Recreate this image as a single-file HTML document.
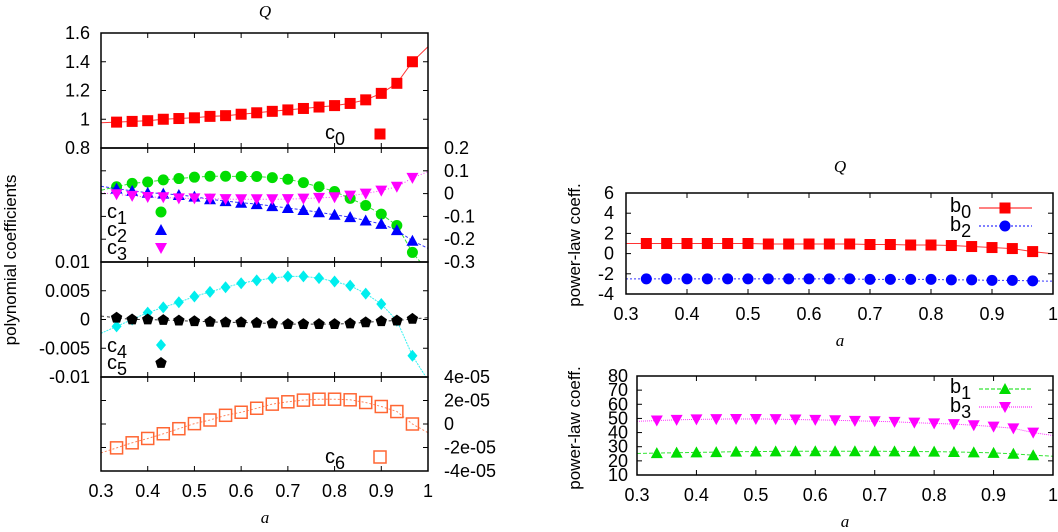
<!DOCTYPE html>
<html><head><meta charset="utf-8"><style>
body{margin:0;background:#fff}
svg text{font-family:"Liberation Sans",sans-serif;fill:#000}
.it{font-family:"Liberation Serif",serif;font-style:italic}
</style></head><body>
<svg id="s" width="1058" height="527" xmlns="http://www.w3.org/2000/svg"></svg>
<script>
const xs=[1/3,11/30,0.4,13/30,14/30,0.5,16/30,17/30,0.6,19/30,20/30,0.7,22/30,23/30,0.8,25/30,26/30,0.9,28/30,29/30];
const c0=[0.98,0.985,0.99,1.0,1.005,1.01,1.02,1.025,1.035,1.045,1.055,1.065,1.075,1.085,1.095,1.11,1.135,1.18,1.25,1.4];
const c1=[0.030,0.045,0.051,0.060,0.066,0.072,0.076,0.076,0.075,0.075,0.070,0.063,0.048,0.030,0.009,-0.021,-0.052,-0.090,-0.140,-0.258];
const c2=[0.022,0.012,0.004,0,-0.006,-0.013,-0.025,-0.033,-0.040,-0.046,-0.055,-0.063,-0.072,-0.082,-0.093,-0.103,-0.118,-0.133,-0.160,-0.207];
const c3=[-0.003,-0.010,-0.015,-0.016,-0.021,-0.021,-0.022,-0.024,-0.025,-0.025,-0.025,-0.024,-0.022,-0.019,-0.016,-0.009,0,0.013,0.030,0.069];
const c4=[-0.0012,0.0,0.0012,0.0021,0.0030,0.0040,0.0048,0.0056,0.0063,0.0068,0.0072,0.0075,0.0075,0.0072,0.0066,0.0059,0.0045,0.0027,-0.0002,-0.0063];
const c5=[0.0003,0,0,-0.0001,-0.0002,-0.0003,-0.0004,-0.0005,-0.0005,-0.0006,-0.0007,-0.0008,-0.0008,-0.0008,-0.0008,-0.0007,-0.0005,-0.0003,-0.0002,0.0001];
const c6=[-2.03,-1.6,-1.23,-0.83,-0.40,0.03,0.34,0.74,1.0,1.34,1.69,1.89,2.03,2.11,2.11,2.06,1.83,1.49,1.06,0];
const b0=[1,1,1,1,1,1,0.95,0.95,0.95,0.95,0.95,0.9,0.9,0.85,0.85,0.8,0.7,0.6,0.5,0.2];
const b2=[-2.5,-2.5,-2.5,-2.5,-2.5,-2.5,-2.5,-2.5,-2.5,-2.5,-2.5,-2.55,-2.55,-2.55,-2.55,-2.6,-2.6,-2.65,-2.65,-2.7];
const b1=[25.5,25.8,26,26.2,26.5,26.6,26.7,26.8,26.8,26.8,26.8,26.8,26.7,26.6,26.5,26.3,26,25.6,25,24];
const b3=[48.5,49,49.3,49.5,49.6,49.6,49.5,49.2,49,48.7,48.3,48,47.6,47,46.5,46,45.2,44.2,43,40];
const xTicks=[0.3,0.4,0.5,0.6,0.7,0.8,0.9,1];
const S=document.getElementById('s');const NS='http://www.w3.org/2000/svg';
const FS=18;
function el(t,a,p){const e=document.createElementNS(NS,t);for(const k in a)e.setAttribute(k,a[k]);(p||S).appendChild(e);return e;}
function txt(x,y,s,anchor,size,cls){const e=el('text',{x:x,y:y,'text-anchor':anchor||'middle','font-size':size||FS});if(cls)e.setAttribute('class',cls);e.textContent=s;return e;}
function sub(x,y,b,s){const e=el('text',{x:x,y:y,'font-size':20});e.innerHTML=b+'<tspan dy="6" font-size="18">'+s+'</tspan>';return e;}
const defs=el('defs',{});let clipN=0;
function clip(L,T,R,B){const id='cp'+(clipN++);const c=el('clipPath',{id:id},defs);el('rect',{x:L,y:T,width:R-L,height:B-T},c);return 'url(#'+id+')';}
function mk(shape,x,y,col,g){
 if(shape==='sq')return el('rect',{x:x-5.5,y:y-5.5,width:11,height:11,fill:col},g);
 if(shape==='osq')return el('rect',{x:x-6,y:y-6,width:12,height:12,fill:'none',stroke:col,'stroke-width':1.5},g);
 if(shape==='ci')return el('circle',{cx:x,cy:y,r:5.5,fill:col},g);
 if(shape==='tu')return el('polygon',{points:`${x},${y-6} ${x-6},${y+5} ${x+6},${y+5}`,fill:col},g);
 if(shape==='td')return el('polygon',{points:`${x},${y+6} ${x-6},${y-5} ${x+6},${y-5}`,fill:col},g);
 if(shape==='di')return el('polygon',{points:`${x},${y-6} ${x+5},${y} ${x},${y+6} ${x-5},${y}`,fill:col},g);
 if(shape==='pe'){let p=[];for(let i=0;i<5;i++){const a=-Math.PI/2+i*2*Math.PI/5;p.push((x+6*Math.cos(a)).toFixed(1)+','+(y+6*Math.sin(a)).toFixed(1));}return el('polygon',{points:p.join(' '),fill:col},g);}
}
function series(name,vals,X,Y,shape,col,dash,cp){
 const g=el('g',{});
 
 
 const n=vals.length,x0=0.3,x1=1;
 const sL=(vals[1]-vals[0])/(xs[1]-xs[0]),sR=(vals[n-1]-vals[n-2])/(xs[n-1]-xs[n-2]);
 let pts=[[x0,vals[0]+sL*(x0-xs[0])]];
 xs.forEach((x,i)=>pts.push([x,vals[i]]));
 pts.push([x1,vals[n-1]+sR*0.7*(x1-xs[n-1])]);
 el('polyline',{points:pts.map(p=>X(p[0]).toFixed(1)+','+Y(p[1]).toFixed(1)).join(' '),fill:'none',stroke:col,'stroke-width':1,'stroke-dasharray':dash||'none',opacity:0.8,'clip-path':cp},g);
 xs.forEach((x,i)=>{const m=mk(shape,X(x),Y(vals[i]),col,g);
  
  });
}
function lin(d0,d1,r0,r1){return v=>r0+(v-d0)/(d1-d0)*(r1-r0);}
function frame(L,T,R,B,name){const r=el('rect',{x:L,y:T,width:R-L,height:B-T,fill:'none',stroke:'#000','stroke-width':1.5});}
function xtick(X,T,B){xTicks.forEach(t=>{el('line',{x1:X(t),x2:X(t),y1:B,y2:B-5,stroke:'#000'});el('line',{x1:X(t),x2:X(t),y1:T,y2:T+5,stroke:'#000'});});}
function ytickL(L,R,Y,vals,labs,lx){vals.forEach((v,i)=>{el('line',{x1:L,x2:L+5,y1:Y(v),y2:Y(v),stroke:'#000'});el('line',{x1:R,x2:R-5,y1:Y(v),y2:Y(v),stroke:'#000'});if(labs)txt(lx,Y(v)+6,labs[i],'end');});}
// ===== LEFT =====
const LX=lin(0.3,1,101,428);
txt(265,17,'Q','middle',17,'it');
const Y1=lin(0.8,1.6,148,33);
series('c0',c0,LX,Y1,'sq','#f00','',clip(101,33,428,148));
ytickL(101,428,Y1,[0.8,1,1.2,1.4,1.6],['0.8','1','1.2','1.4','1.6'],90);
xtick(LX,33,148);
sub(325,139,'c','0');mk('sq',380,134,'#f00');
const Y2=lin(-0.3,0.2,262,148);
const cp2=clip(101,148,428,262);
series('c1',c1,LX,Y2,'ci','#0d0','4,2',cp2);
series('c2',c2,LX,Y2,'tu','#00f','3,2',cp2);
series('c3',c3,LX,Y2,'td','#f0f','1,2',cp2);
ytickL(101,428,Y2,[-0.3,-0.2,-0.1,0,0.1,0.2],null);
[[-0.3,'-0.3'],[-0.2,'-0.2'],[-0.1,'-0.1'],[0,'0'],[0.1,'0.1'],[0.2,'0.2']].forEach(a=>txt(444,Y2(a[0])+6,a[1],'start'));
xtick(LX,148,262);
sub(107,218,'c','1');mk('ci',161,212,'#0d0');
sub(107,236,'c','2');mk('tu',161,230,'#00f');
sub(107,254,'c','3');mk('td',161,248,'#f0f');
const Y3=lin(-0.01,0.01,377,262);
const cp3=clip(101,262,428,377);
series('c4',c4,LX,Y3,'di','#0ee','2,1',cp3);
series('c5',c5,LX,Y3,'pe','#000','3,3',cp3);
ytickL(101,428,Y3,[-0.01,-0.005,0,0.005,0.01],['-0.01','-0.005','0','0.005','0.01'],90);
xtick(LX,262,377);
sub(107,352,'c','4');mk('di',161,345,'#0ee');
sub(107,369,'c','5');mk('pe',161,363,'#000');
const Y4=lin(-4,4,471,377);
series('c6',c6,LX,Y4,'osq','#f63','2,2',clip(101,377,428,471));
ytickL(101,428,Y4,[-4,-2,0,2,4],null);
[[-4,'-4e-05'],[-2,'-2e-05'],[0,'0'],[2,'2e-05'],[4,'4e-05']].forEach(a=>txt(444,Y4(a[0])+6,a[1],'start'));
xtick(LX,377,471);
sub(325,463,'c','6');mk('osq',380,457,'#f63');
frame(101,33,428,148,'c0-panel');frame(101,148,428,262,'c1-c3-panel');frame(101,262,428,377,'c4-c5-panel');frame(101,377,428,471,'c6-panel');
xTicks.forEach(t=>txt(LX(t),497,String(t)));
txt(265,523,'a','middle',17,'it');
const yl=txt(0,0,'polynomial coefficients','middle',17);yl.setAttribute('transform','translate(16,260) rotate(-90)');

// ===== RIGHT TOP =====
const RX=lin(0.3,1,626,1053);
txt(840,172,'Q','middle',17,'it');
const Y5=lin(-4,6,294,193);
const cp5=clip(626,193,1053,294);
series('b0',b0,RX,Y5,'sq','#f00','',cp5);
series('b2',b2,RX,Y5,'ci','#00f','2,2',cp5);
ytickL(626,1053,Y5,[-4,-2,0,2,4,6],['-4','-2','0','2','4','6'],614);
xtick(RX,193,294);
frame(626,193,1053,294,'power-law-top-panel');
xTicks.forEach(t=>txt(RX(t),320,String(t)));
txt(840,346,'a','middle',17,'it');
sub(950,212,'b','0');el('line',{x1:979,x2:1032,y1:208,y2:208,stroke:'#f00'});mk('sq',1005,208,'#f00');
sub(950,231,'b','2');el('line',{x1:979,x2:1032,y1:226,y2:226,stroke:'#00f','stroke-dasharray':'2,2'});mk('ci',1005,226,'#00f');
let t1=txt(0,0,'power-law coeff.','middle',17);t1.setAttribute('transform','translate(580,245) rotate(-90)');
// ===== RIGHT BOTTOM =====
const RX2=lin(0.3,1,637,1053);
const Y6=lin(10,80,475,376);
const cp6=clip(637,376,1053,475);
series('b1',b1,RX2,Y6,'tu','#0d0','4,2',cp6);
series('b3',b3,RX2,Y6,'td','#f0f','1,1',cp6);
ytickL(637,1053,Y6,[10,20,30,40,50,60,70,80],['10','20','30','40','50','60','70','80'],628);
xtick(RX2,376,475);
frame(637,376,1053,475,'power-law-bottom-panel');
xTicks.forEach(t=>txt(RX2(t),501,String(t)));
txt(845,527,'a','middle',17,'it');
sub(950,393,'b','1');el('line',{x1:979,x2:1032,y1:389,y2:389,stroke:'#0d0','stroke-dasharray':'4,2'});mk('tu',1005,389,'#0d0');
sub(950,412,'b','3');el('line',{x1:979,x2:1032,y1:407,y2:407,stroke:'#f0f','stroke-dasharray':'1,1'});mk('td',1005,407,'#f0f');
let t2=txt(0,0,'power-law coeff.','middle',17);t2.setAttribute('transform','translate(580,428) rotate(-90)');
</script>
</body></html>
